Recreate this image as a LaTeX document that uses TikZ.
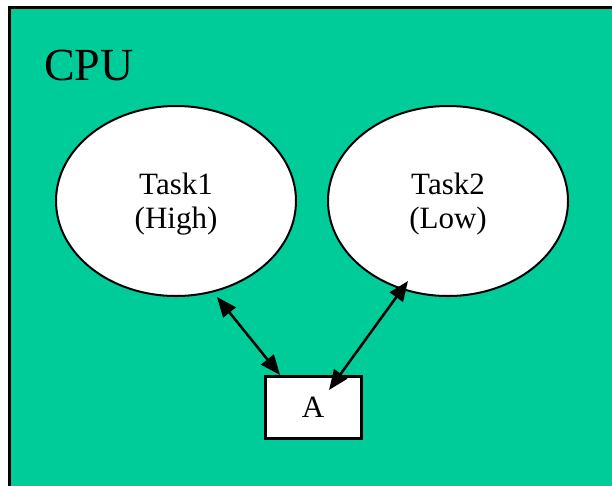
\documentclass[tikz,border=0pt]{standalone}
\usepackage{fontspec}
\setmainfont{Liberation Serif}
\usetikzlibrary{arrows.meta,shapes.geometric}
\definecolor{cpugreen}{RGB}{0,204,153}
\tikzset{
  task/.style={ellipse, draw=black, line width=2pt, fill=white,
    minimum width=240pt, minimum height=190pt, inner sep=0pt},
  tasklabel/.style={font=\fontsize{31}{34}\selectfont, align=center, inner sep=0pt},
  res/.style={rectangle, draw=black, line width=3pt, fill=white,
    minimum width=96pt, minimum height=62pt, inner sep=0pt,
    font=\fontsize{31}{35}\selectfont},
  link/.style={line width=2.5pt,
    {Triangle[length=20pt,width=16pt]}-{Triangle[length=20pt,width=16pt]}}
}
\begin{document}
\begin{tikzpicture}[x=1pt,y=-1pt]
  \useasboundingbox (0,0) rectangle (612,485);
  \begin{scope}
    \clip (0,0) rectangle (612,485);
    \fill[white] (0,0) rectangle (612,485);
    \draw[line width=3pt, fill=cpugreen] (9,7.5) rectangle (640,520);
  \end{scope}
  \node[anchor=base west, font=\fontsize{46}{50}\selectfont, inner sep=0pt] (cpu) at (44,80) {CPU};
  \node[task] (t1) at (176,201) {};
  \node[task] (t2) at (448,201) {};
  \node[tasklabel] (t1label) at (176,204) {Task1\\(High)};
  \node[tasklabel] (t2label) at (448,204) {Task2\\(Low)};
  \node[res] (a) at (313,407) {A};
  \coordinate (t1end) at (217,297);
  \coordinate (aend1) at (280,375);
  \coordinate (aend2) at (329,390);
  \coordinate (t2end) at (408,281);
  \draw[link] (t1end) -- (aend1);
  \draw[link] (aend2) -- (t2end);
\end{tikzpicture}
\end{document}
